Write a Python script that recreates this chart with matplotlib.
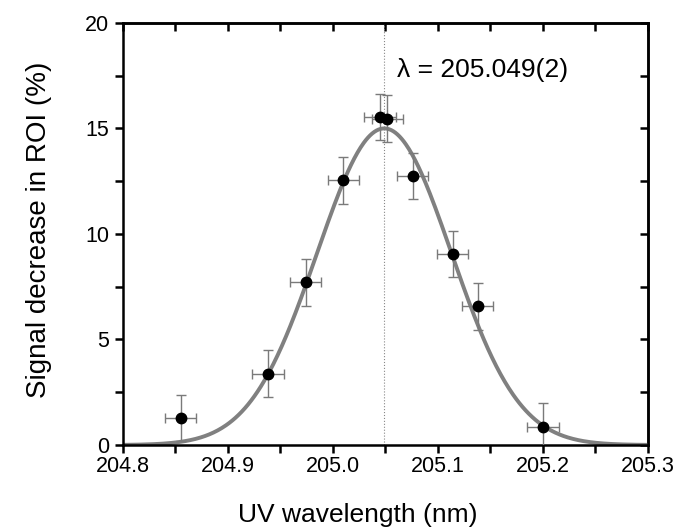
import numpy as np
import matplotlib
matplotlib.use("Agg")
import matplotlib.pyplot as plt

plt.rcParams['font.family'] = ['Liberation Sans', 'DejaVu Sans']

# Measured points
wavelength = [204.855, 204.938, 204.974, 205.010, 205.045, 205.052, 205.076, 205.114, 205.138, 205.200]
signal = [1.27, 3.38, 7.71, 12.54, 15.54, 15.46, 12.75, 9.04, 6.57, 0.87]
x_err = [0.015] * len(wavelength)
y_err = [1.1] * len(wavelength)

# Gaussian fit parameters
fit_amp = 15.0
fit_center = 205.049
fit_sigma = 0.064

major_x = [204.8, 204.9, 205.0, 205.1, 205.2, 205.3]
minor_x = [204.85, 204.95, 205.05, 205.15, 205.25]
major_y = [0, 5, 10, 15, 20]
minor_y = [2.5, 7.5, 12.5, 17.5]

fig = plt.figure(figsize=(6.79, 5.32), dpi=100)
ax = fig.add_axes([0.181, 0.1635, 0.773, 0.7935])

xf = np.linspace(204.8, 205.3, 500)
yf = fit_amp * np.exp(-(xf - fit_center) ** 2 / (2 * fit_sigma ** 2))
ax.plot(xf, yf, color='#808080', linewidth=2.8, zorder=2)

ax.axvline(fit_center, color='#888888', linestyle=':', linewidth=0.8, zorder=1)

ax.errorbar(wavelength, signal, xerr=x_err, yerr=y_err, fmt='o', color='black',
            markersize=7.5, ecolor='#7a7a7a', elinewidth=1.0, capsize=3.5, capthick=1.0, zorder=3)

ax.text(205.061, 17.75, '\u03bb = 205.049(2)', fontsize=19, ha='left', va='center')

ax.set_xlim(204.8, 205.3)
ax.set_ylim(0, 20)
ax.set_xticks(major_x)
ax.set_xticklabels(['204.8', '204.9', '205.0', '205.1', '205.2', '205.3'])
ax.set_xticks(minor_x, minor=True)
ax.set_yticks(major_y)
ax.set_yticks(minor_y, minor=True)

for s in ax.spines.values():
    s.set_linewidth(1.8)

ax.tick_params(which='both', direction='out', length=6, width=1.8, labelsize=15.5,
               top=False, right=False)
ax.tick_params(axis='x', pad=2)
ax.tick_params(axis='y', pad=4)

# inward ticks on top and right
ax_top = ax.secondary_xaxis('top')
ax_top.set_xticks(major_x)
ax_top.set_xticks(minor_x, minor=True)
ax_top.tick_params(which='both', direction='in', length=5.5, width=1.8, labeltop=False)
ax_top.spines['top'].set_linewidth(1.8)
ax_right = ax.secondary_yaxis('right')
ax_right.set_yticks(major_y)
ax_right.set_yticks(minor_y, minor=True)
ax_right.tick_params(which='both', direction='in', length=5.5, width=1.8, labelright=False)
ax_right.spines['right'].set_linewidth(1.8)

ax.set_xlabel('UV wavelength (nm)', fontsize=19)
ax.xaxis.set_label_coords(0.448, -0.137)
ax.set_ylabel('Signal decrease in ROI (%)', fontsize=20)
ax.yaxis.set_label_coords(-0.135, 0.51)

fig.savefig('out.png', dpi=100)
